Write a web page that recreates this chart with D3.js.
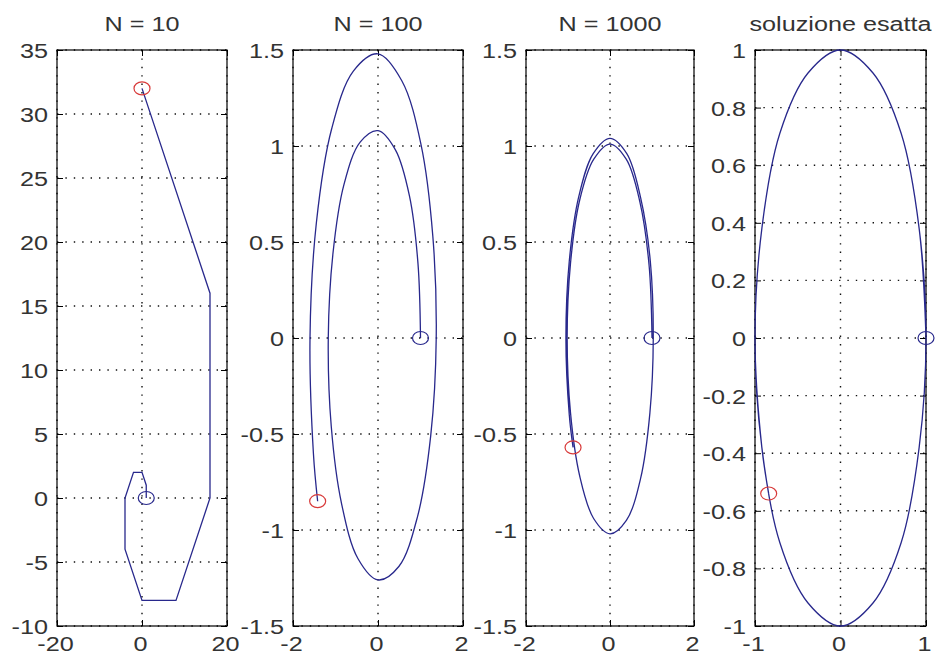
<!DOCTYPE html>
<html>
<head>
<meta charset="utf-8">
<script src="https://cdn.jsdelivr.net/npm/d3@7"></script>
<style>
  body { margin: 0; background: #fff; }
  svg { display: block; }
  text { font-family: "Liberation Sans", Arial, sans-serif; font-size: 21px; fill: #333; }
</style>
</head>
<body>
<svg id="chart" width="937" height="657"></svg>
<script>
// titles of the four subplots
const titles = ["N = 10", "N = 100", "N = 1000", "soluzione esatta"];

// N = 10 (polyline)
const n10X = [1, 1, 0, -2, -4, -4, 0, 8, 16, 16, 0];
const n10Y = [0, 1, 2, 2, 0, -4, -8, -8, 0, 16, 32];

// N = 100 spiral
const n100X = [1.00, 0.94, 0.74, 0.41, 0.00, -0.42, -0.80, -1.06, -1.17, -1.10, -0.86, -0.47, 0.00,
               0.49, 0.93, 1.24, 1.37, 1.29, 1.01, 0.56, 0.00, -0.58, -1.09, -1.45, -1.60, -1.52, -1.42];
const n100Y = [0.00, 0.39, 0.74, 0.98, 1.08, 1.02, 0.80, 0.44, 0.00, -0.46, -0.86, -1.15, -1.26,
               -1.19, -0.93, -0.51, 0.00, 0.53, 1.01, 1.34, 1.48, 1.39, 1.09, 0.60, 0.00, -0.60, -0.85];

// N = 1000 spiral
const n1000X = [1.00, 0.93, 0.71, 0.39, 0.00, -0.39, -0.72, -0.94, -1.02, -0.94, -0.72, -0.39, 0.00,
                0.39, 0.73, 0.95, 1.03, 0.96, 0.73, 0.40, 0.00, -0.40, -0.74, -0.97, -1.05, -0.97, -0.88];
const n1000Y = [0.00, 0.38, 0.71, 0.93, 1.01, 0.93, 0.72, 0.39, 0.00, -0.39, -0.72, -0.94, -1.02,
                -0.95, -0.73, -0.39, 0.00, 0.40, 0.73, 0.96, 1.04, 0.96, 0.74, 0.40, 0.00, -0.40, -0.57];

// exact solution
const exactX = [1.00, 0.92, 0.71, 0.38, 0.00, -0.38, -0.71, -0.92, -1.00, -0.92, -0.71, -0.38, 0.00,
                0.38, 0.71, 0.92, 1.00, 0.92, 0.71, 0.38, 0.00, -0.38, -0.71, -0.92, -1.00, -0.92, -0.84];
const exactY = [0.00, 0.38, 0.71, 0.92, 1.00, 0.92, 0.71, 0.38, 0.00, -0.38, -0.71, -0.92, -1.00,
                -0.92, -0.71, -0.38, 0.00, 0.38, 0.71, 0.92, 1.00, 0.92, 0.71, 0.38, 0.00, -0.38, -0.54];

// axis limits and ticks
const xDomains = [[-20, 20], [-2, 2], [-2, 2], [-1, 1]];
const yDomains = [[-10, 35], [-1.5, 1.5], [-1.5, 1.5], [-1, 1]];
const xTicks = [[-20, 0, 20], [-2, 0, 2], [-2, 0, 2], [-1, 0, 1]];
const yTicks = [
  [-10, -5, 0, 5, 10, 15, 20, 25, 30, 35],
  [-1.5, -1, -0.5, 0, 0.5, 1, 1.5],
  [-1.5, -1, -0.5, 0, 0.5, 1, 1.5],
  [-1, -0.8, -0.6, -0.4, -0.2, 0, 0.2, 0.4, 0.6, 0.8, 1]
];

const seriesX = [n10X, n100X, n1000X, exactX];
const seriesY = [n10Y, n100Y, n1000Y, exactY];

var svg = d3.select("#chart");
var lefts = [57, 293, 526, 755], rights = [227, 463, 694, 926];
var plotTop = 50, plotBottom = 626;
var lineColor = "#28288c", textScale = "scale(1.2,1)";

titles.forEach(function(title, i) {
	var x = d3.scaleLinear().domain(xDomains[i]).range([lefts[i], rights[i]]);
	var y = d3.scaleLinear().domain(yDomains[i]).range([plotBottom, plotTop]);
	var g = svg.append("g");

	// dotted grid
	g.selectAll("line.gx").data(xTicks[i]).enter().append("line")
		.attr("x1", d => x(d)).attr("x2", d => x(d))
		.attr("y1", plotTop).attr("y2", plotBottom)
		.attr("stroke", "#111").attr("stroke-width", 1.4)
		.attr("stroke-dasharray", "1.4,7");
	g.selectAll("line.gy").data(yTicks[i]).enter().append("line")
		.attr("y1", d => y(d)).attr("y2", d => y(d))
		.attr("x1", lefts[i]).attr("x2", rights[i])
		.attr("stroke", "#111").attr("stroke-width", 1.4)
		.attr("stroke-dasharray", "1.4,7");

	// axes with inward ticks
	var fmt = d => String(d);
	var ax = g.append("g").attr("transform", "translate(" + lefts[i] + ",0)")
		.call(d3.axisLeft(y).tickValues(yTicks[i]).tickSizeInner(-6).tickSizeOuter(0).tickFormat(fmt));
	ax.selectAll("text").attr("x", 0).attr("dy", "0.36em")
		.attr("transform", "translate(-9,0) " + textScale);
	g.append("g").attr("transform", "translate(" + rights[i] + ",0)")
		.call(d3.axisRight(y).tickValues(yTicks[i]).tickSizeInner(-6).tickSizeOuter(0).tickFormat(""));
	var bx = g.append("g").attr("transform", "translate(0," + plotBottom + ")")
		.call(d3.axisBottom(x).tickValues(xTicks[i]).tickSizeInner(-6).tickSizeOuter(0).tickFormat(fmt));
	bx.selectAll("text").attr("y", 0).attr("dy", "0.71em")
		.attr("transform", "translate(-2,10) " + textScale);
	g.append("g").attr("transform", "translate(0," + plotTop + ")")
		.call(d3.axisTop(x).tickValues(xTicks[i]).tickSizeInner(-6).tickSizeOuter(0).tickFormat(""));
	g.selectAll(".domain").remove();
	g.selectAll(".tick line").attr("stroke", "#000");
	g.selectAll(".tick text").style("font-size", "21px").attr("fill", "#333")
		.style("font-family", "'Liberation Sans', Arial, sans-serif");

	// box
	g.append("rect").attr("x", lefts[i]).attr("y", plotTop)
		.attr("width", rights[i] - lefts[i]).attr("height", plotBottom - plotTop)
		.attr("fill", "none").attr("stroke", "#000").attr("stroke-width", 1.2);

	// curve
	var pts = seriesX[i].map((v, j) => [v, seriesY[i][j]]);
	var line = d3.line().x(d => x(d[0])).y(d => y(d[1]))
		.curve(i == 0 ? d3.curveLinear : d3.curveCatmullRom);
	g.append("path").datum(pts).attr("d", line)
		.attr("fill", "none").attr("stroke", lineColor).attr("stroke-width", 1.3);

	// start / end markers
	var first = pts[0], last = pts[pts.length - 1];
	g.append("ellipse").attr("cx", x(first[0])).attr("cy", y(first[1]))
		.attr("rx", 8).attr("ry", 6.5)
		.attr("fill", "none").attr("stroke", lineColor).attr("stroke-width", 1.2);
	g.append("ellipse").attr("cx", x(last[0])).attr("cy", y(last[1]))
		.attr("rx", 8).attr("ry", 6.5)
		.attr("fill", "none").attr("stroke", "#d83a3a").attr("stroke-width", 1.2);

	// title
	svg.append("text")
		.attr("text-anchor", "middle")
		.attr("transform", "translate(" + ((lefts[i] + rights[i]) / 2) + ",31) " + textScale)
		.text(title);
});
</script>
</body>
</html>
